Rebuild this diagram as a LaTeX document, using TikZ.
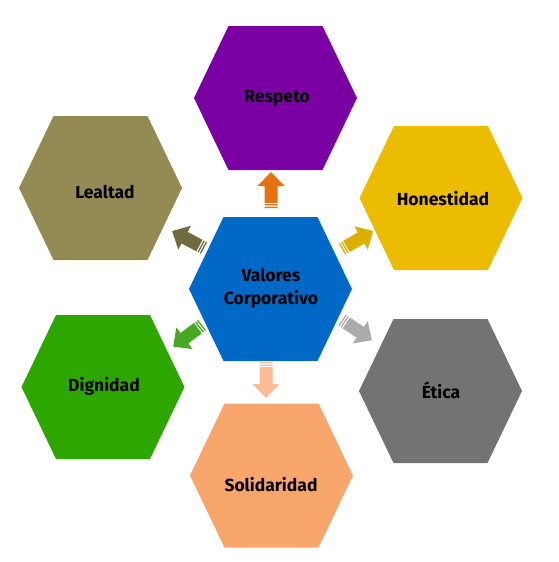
\documentclass[tikz,border=0pt]{standalone}
\usepackage{fontspec}
\setmainfont{Fira Sans}
\definecolor{cCenter}{HTML}{0068C6}
\definecolor{cRespeto}{HTML}{7B00A3}
\definecolor{cHonest}{HTML}{EBBC00}
\definecolor{cLealtad}{HTML}{948A54}
\definecolor{cDignidad}{HTML}{2EA600}
\definecolor{cEtica}{HTML}{737373}
\definecolor{cSolid}{HTML}{F9A66C}
\definecolor{aRespeto}{HTML}{E8710F}
\definecolor{aHonest}{HTML}{DDB000}
\definecolor{aEtica}{HTML}{ABABAB}
\definecolor{aSolid}{HTML}{FBBD95}
\definecolor{aDignidad}{HTML}{48A822}
\definecolor{aLealtad}{HTML}{6F6A40}
\tikzset{
  lbl/.style={font=\bfseries\fontsize{17.5}{23}\selectfont, text=black, align=center, inner sep=0pt},
}
\newcommand\hexagono[3]{%
  \fill[#3] (#1-81.5,#2) -- (#1-47,#2-72) -- (#1+47,#2-72) -- (#1+81.5,#2) -- (#1+47,#2+72) -- (#1-47,#2+72) -- cycle;}
\newcommand\bloque[4]{%
  \begin{scope}[shift={(#1,#2)},rotate=#3]
    \fill[#4] (0,-6.5) rectangle (1.3,6.5) (2.6,-6.5) rectangle (3.9,6.5);
    \fill[#4] (5.2,-6.5) -- (22,-6.5) -- (22,-13.5) -- (36,0) -- (22,13.5) -- (22,6.5) -- (5.2,6.5) -- cycle;
  \end{scope}}
\begin{document}
\begin{tikzpicture}[x=1pt,y=-1pt]
\useasboundingbox (0,0) rectangle (558,562);
\fill[white] (0,0) rectangle (558,562);
\hexagono{270.5}{289}{cCenter}
\hexagono{275.5}{98}{cRespeto}
\hexagono{100.5}{188}{cLealtad}
\hexagono{441}{198}{cHonest}
\hexagono{103}{387}{cDignidad}
\hexagono{440.5}{391}{cEtica}
\hexagono{271.5}{475.5}{cSolid}
\bloque{271}{208}{90}{aRespeto}
\bloque{266}{362}{-90}{aSolid}
\bloque{342}{249}{30}{aHonest}
\bloque{342}{320}{-34}{aEtica}
\bloque{202}{325}{217}{aDignidad}
\bloque{204}{248}{152}{aLealtad}
\node[lbl] (centro) at (271,288) {Valores\\Corporativo};
\node[lbl] (respeto) at (277,98.5) {Respeto};
\node[lbl] (honestidad) at (443,198.5) {Honestidad};
\node[lbl] (lealtad) at (105,192) {Lealtad};
\node[lbl] (dignidad) at (104,386) {Dignidad};
\node[lbl] (etica) at (441,390) {Ética};
\node[lbl] (solidaridad) at (271,485) {Solidaridad};
\end{tikzpicture}
\end{document}
